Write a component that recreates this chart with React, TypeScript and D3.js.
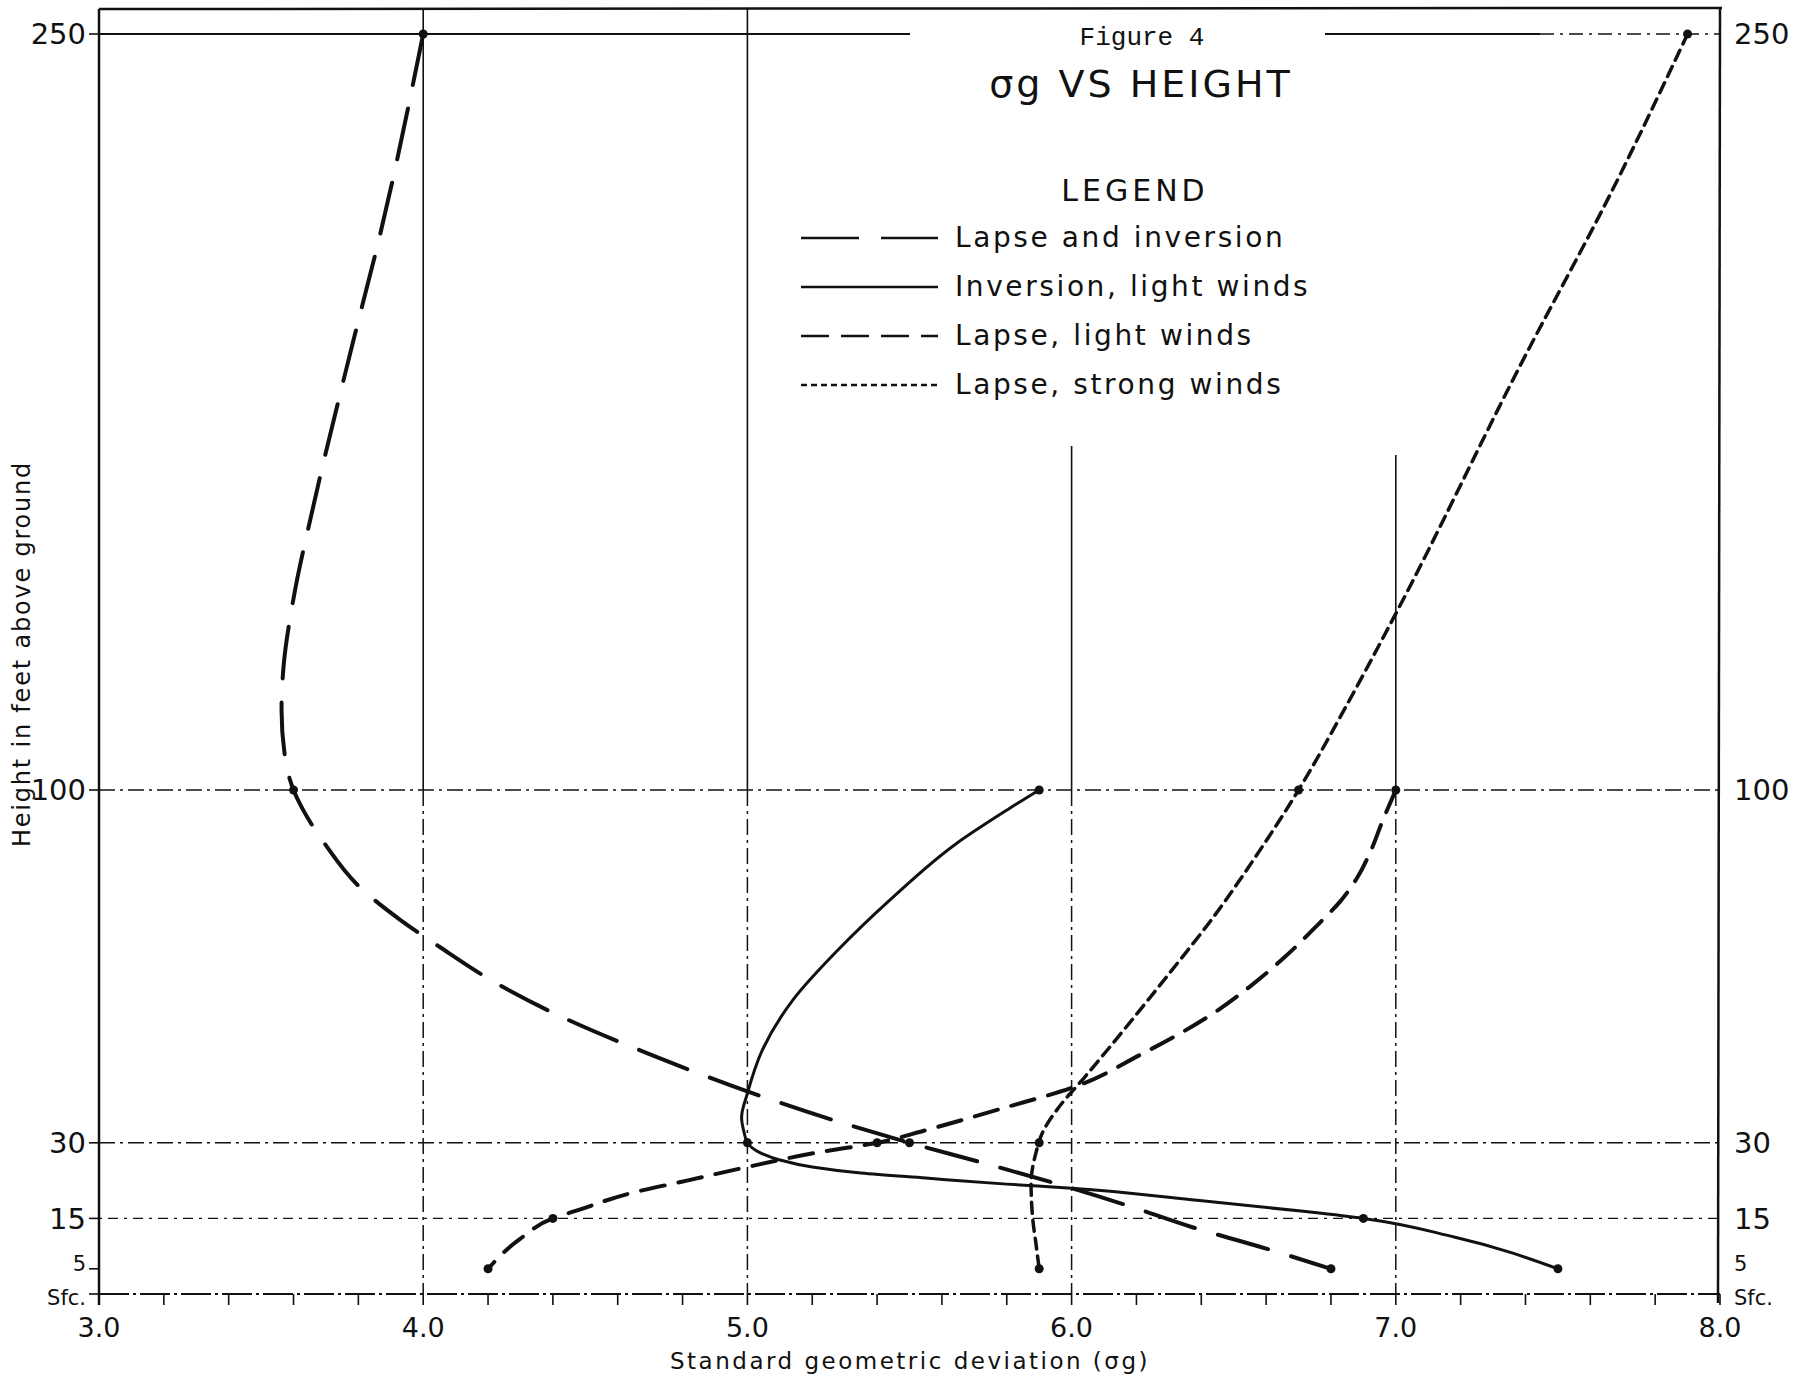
import React from "react";
import * as d3 from "d3";

// ---- data ----
const xTicks = [3, 4, 5, 6, 7, 8];
const xTickLabels = ["3.0", "4.0", "5.0", "6.0", "7.0", "8.0"];
const xMinorTicks = d3.range(3, 8.001, 0.2);
const yTicks = [250, 100, 30, 15, 5, 0];
const yTickLabels = ["250", "100", "30", "15", "5", "Sfc."];

// Lapse and inversion (long dash)
const lapseInversion: [number, number][] = [
  [4.0, 250], [3.87, 211], [3.78, 188], [3.66, 156], [3.6, 138], [3.57, 125], [3.563, 116],
  [3.575, 106], [3.6, 100], [3.63, 96], [3.7, 89], [3.8, 81], [3.93, 74.2], [4.05, 68.9],
  [4.23, 61.5], [4.44, 54.6], [4.69, 47.8], [5.0, 40.2], [5.25, 34.8],
  [5.5, 30], [5.75, 25.6], [6.0, 21], [6.18, 17.4], [6.37, 13.3], [6.6, 9.0], [6.8, 5],
];
const lapseInversionMarks: [number, number][] = [[4.0, 250], [3.6, 100], [5.5, 30], [6.8, 5]];

// Inversion, light winds (solid)
const inversionLight: [number, number][] = [
  [5.9, 100], [5.8, 96], [5.645, 89.4], [5.44, 78.2], [5.28, 68.3], [5.14, 58.3],
  [5.046, 48.4], [5.0, 39.8], [4.982, 35], [4.99, 32], [5.0, 30], [5.04, 28], [5.1, 26.6],
  [5.2, 25.2], [5.35, 24], [5.55, 23], [5.8, 21.8], [6.0, 21], [6.37, 18.7], [6.73, 16.3],
  [6.9, 15], [7.18, 11.3], [7.5, 5],
];
const inversionLightMarks: [number, number][] = [[5.9, 100], [5.0, 30], [6.9, 15], [7.5, 5]];

// Lapse, light winds (medium dash)
const lapseLight: [number, number][] = [
  [7.0, 100], [6.96, 94], [6.92, 87.5], [6.88, 82.5], [6.83, 78], [6.76, 73.3], [6.66, 67],
  [6.55, 61], [6.43, 55.4], [6.21, 47.4], [6.0, 40.9], [5.79, 36.9], [5.55, 32.5], [5.4, 30],
  [5.21, 28], [5.0, 25.2], [4.82, 22.6], [4.64, 20], [4.48, 16.7], [4.4, 15], [4.3, 11], [4.2, 5],
];
const lapseLightMarks: [number, number][] = [[7.0, 100], [5.4, 30], [4.4, 15], [4.2, 5]];

// Lapse, strong winds (dotted)
const lapseStrong: [number, number][] = [
  [7.9, 250], [7.66, 218], [7.39, 185], [7.0, 135], [6.85, 117], [6.7, 100], [6.57, 87],
  [6.44, 75], [6.3, 63.5], [6.16, 52.3], [6.04, 43], [5.96, 37], [5.91, 32], [5.89, 28],
  [5.875, 22], [5.88, 15], [5.89, 10], [5.9, 5],
];
const lapseStrongMarks: [number, number][] = [[7.9, 250], [6.7, 100], [5.9, 30], [5.9, 5]];

const legendLabels = [
  "Lapse and inversion",
  "Inversion, light winds",
  "Lapse, light winds",
  "Lapse, strong winds",
];

// ---- styles ----
const INK = "#111";
const FONT = "'DejaVu Sans', Verdana, sans-serif";
const DASHES = ["52,24", "none", "24,14", "11,7"];
const WIDTHS = [4, 3, 4, 3.5];
const LEGEND_DASHES = ["58,22", "none", "28,12", "6,4"];

export default function App() {
  const W = 1815, H = 1376;
  const x = d3.scaleLinear().domain([3, 8]).range([99, 1720]);
  const y = d3.scaleLinear().domain([0, 250]).range([1294, 34]);
  const line = d3
    .line<[number, number]>()
    .x((d) => x(d[0]))
    .y((d) => y(d[1]))
    .curve(d3.curveMonotoneY);

  const series = [lapseInversion, inversionLight, lapseLight, lapseStrong];
  const marks = [lapseInversionMarks, inversionLightMarks, lapseLightMarks, lapseStrongMarks];

  const top = 9;
  const left = x(3), right = x(8);
  const bottomExt = y(0) + 11;
  const dashDot = "16,5,3,5";
  const dotted = "3,6,10,6";

  // legend layout
  const lgX0 = 801, lgX1 = 938, lgText = 955;
  const lgRows = [238, 287, 336, 385];

  return (
    <svg
      width={W}
      height={H}
      viewBox={`0 0 ${W} ${H}`}
      style={{ position: "absolute", left: 0, top: 0, background: "#fff" }}
    >
      <rect x={0} y={0} width={W} height={H} fill="#fff" />

      {/* frame */}
      <line x1={left} y1={top} x2={right + 2} y2={top - 1} stroke={INK} strokeWidth={2.5} />
      <line x1={left} y1={top} x2={left} y2={bottomExt} stroke={INK} strokeWidth={2.5} />
      <line x1={right} y1={top - 2} x2={right - 2} y2={bottomExt - 2} stroke={INK} strokeWidth={2.5} />

      {/* 250 line, broken by title */}
      <line x1={left} y1={y(250)} x2={910} y2={y(250)} stroke={INK} strokeWidth={1.8} />
      <line x1={1325} y1={y(250)} x2={1540} y2={y(250)} stroke={INK} strokeWidth={1.8} />
      <line x1={1540} y1={y(250)} x2={right} y2={y(250)} stroke={INK} strokeWidth={1.6} strokeDasharray="14,6,3,6" />

      {/* horizontal grid */}
      <line x1={left} y1={y(100)} x2={right} y2={y(100)} stroke={INK} strokeWidth={1.5} strokeDasharray={dashDot} />
      <line x1={left} y1={y(30)} x2={right} y2={y(30)} stroke={INK} strokeWidth={1.5} strokeDasharray={dashDot} />
      <line x1={left} y1={y(15)} x2={right} y2={y(15)} stroke={INK} strokeWidth={1.3} strokeDasharray={dotted} />
      <line x1={left} y1={y(0)} x2={right} y2={y(0)} stroke={INK} strokeWidth={2} strokeDasharray="30,4,3,4" />

      {/* vertical grid */}
      {[4, 5].map((v) => (
        <g key={"vg" + v}>
          <line x1={x(v)} y1={top} x2={x(v)} y2={y(100)} stroke={INK} strokeWidth={1.6} />
          <line x1={x(v)} y1={y(100)} x2={x(v)} y2={y(0)} stroke={INK} strokeWidth={1.5} strokeDasharray={dashDot} />
        </g>
      ))}
      {[6, 7].map((v) => (
        <g key={"vg" + v}>
          <line x1={x(v)} y1={v === 6 ? 446 : 455} x2={x(v)} y2={y(100)} stroke={INK} strokeWidth={1.6} />
          <line x1={x(v)} y1={y(100)} x2={x(v)} y2={y(0)} stroke={INK} strokeWidth={1.5} strokeDasharray={dashDot} />
        </g>
      ))}

      {/* x minor ticks */}
      {xMinorTicks.map((v, i) => (
        <line key={"mt" + i} x1={x(v)} y1={y(0)} x2={x(v)} y2={y(0) + 11} stroke={INK} strokeWidth={1.6} />
      ))}

      {/* y ticks (left) */}
      {yTicks.map((v) => (
        <line key={"yt" + v} x1={left - 10} y1={y(v)} x2={left} y2={y(v)} stroke={INK} strokeWidth={1.6} />
      ))}

      {/* x tick labels */}
      {xTicks.map((v, i) => (
        <text key={"xl" + v} x={x(v)} y={1337} textAnchor="middle" fontFamily={FONT} fontSize={27} fill={INK}>
          {xTickLabels[i]}
        </text>
      ))}

      {/* y tick labels left & right */}
      {yTicks.map((v, i) => {
        const small = v <= 5;
        const fs = small ? 21 : 29;
        const dy = v === 0 ? 3 : v === 5 ? -5 : 0;
        return (
          <g key={"yl" + v}>
            <text x={left - 13} y={y(v) + dy} dy="0.36em" textAnchor="end" fontFamily={FONT} fontSize={fs} fill={INK}>
              {yTickLabels[i]}
            </text>
            <text x={right + 14} y={y(v) + dy} dy="0.36em" textAnchor="start" fontFamily={FONT} fontSize={fs} fill={INK}>
              {yTickLabels[i]}
            </text>
          </g>
        );
      })}

      {/* axis titles */}
      <text x={910} y={1369} textAnchor="middle" fontFamily={FONT} fontSize={23} fill={INK} letterSpacing={2.5}>
        Standard geometric deviation (σg)
      </text>
      <text
        transform={`translate(30, 654) rotate(-90)`}
        textAnchor="middle"
        fontFamily={FONT}
        fontSize={24}
        fill={INK}
        letterSpacing={1.8}
      >
        Height in feet above ground
      </text>

      {/* title */}
      <text x={1142} y={45} textAnchor="middle" fontFamily="'Liberation Mono', 'Courier New', monospace" fontSize={26} fill={INK}>
        Figure 4
      </text>
      <text x={1141} y={97} textAnchor="middle" fontFamily={FONT} fontSize={38} fill={INK} letterSpacing={3}>
        σg VS HEIGHT
      </text>
      <text x={1135} y={201} textAnchor="middle" fontFamily={FONT} fontSize={30} fill={INK} letterSpacing={4}>
        LEGEND
      </text>

      {/* legend */}
      {legendLabels.map((lab, i) => (
        <g key={"lg" + i}>
          <line
            x1={lgX0}
            y1={lgRows[i]}
            x2={lgX1}
            y2={lgRows[i]}
            stroke={INK}
            strokeWidth={2.6}
            strokeDasharray={LEGEND_DASHES[i]}
          />
          <text x={lgText} y={lgRows[i] + 9} fontFamily={FONT} fontSize={28} fill={INK} letterSpacing={2.6}>
            {lab}
          </text>
        </g>
      ))}

      {/* curves */}
      {series.map((s, i) => (
        <path
          key={"s" + i}
          d={line(s) || ""}
          fill="none"
          stroke={INK}
          strokeWidth={WIDTHS[i]}
          strokeDasharray={DASHES[i]}
          strokeLinecap="round"
        />
      ))}

      {/* markers */}
      {marks.map((m, i) =>
        m.map((p, j) => (
          <circle key={"m" + i + "_" + j} cx={x(p[0])} cy={y(p[1])} r={4.5} fill={INK} />
        ))
      )}
    </svg>
  );
}
